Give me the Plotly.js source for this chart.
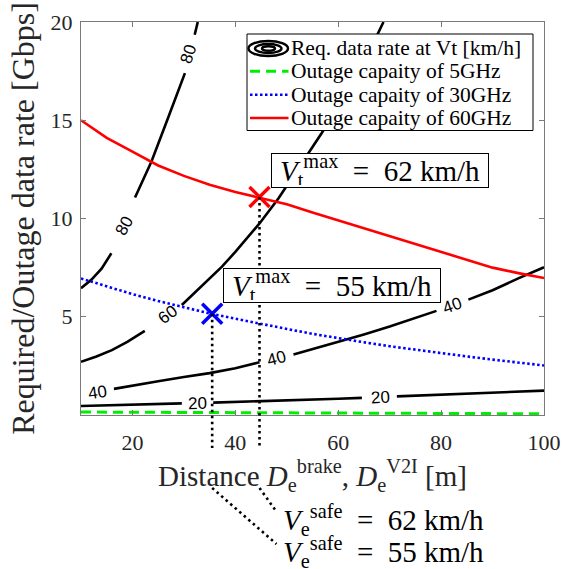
<!DOCTYPE html>
<html>
<head>
<meta charset="utf-8">
<script src="https://cdn.plot.ly/plotly-3.0.1.min.js"></script>
<style>html,body{margin:0;padding:0;background:#fff;}</style>
</head>
<body>
<div id="chart" style="width:563px;height:569px;"></div>
<script>
// ---- data ----
// contour "Req. data rate at Vt" (levels 20/40/60/80 km/h); null = gap for inline label
const c20D = [10, 15, 20, 25, 29.6, null, 35.7, 40, 45, 50, 55, 60, 64.6, null, 71.4, 75, 80, 85, 90, 95, 100];
const c20R = [0.46, 0.49, 0.52, 0.56, 0.59, null, 0.63, 0.66, 0.70, 0.74, 0.78, 0.83, 0.87, null, 0.95, 0.99, 1.04, 1.09, 1.14, 1.19, 1.24];
const c40D = [16.4, 20, 25, 30, 35, 40, 44.7, null, 51.3, 55, 60, 65, 70, 75, 79.1, null, 85.3, 90, 95, 100];
const c40R = [1.33, 1.5, 1.72, 1.93, 2.13, 2.38, 2.68, null, 3.08, 3.35, 3.72, 4.1, 4.5, 4.92, 5.3, null, 5.87, 6.35, 6.95, 7.52];
const c60D = [10, 13, 16, 19, 22.4, null, 29.6, 33, 37.4, 40, 44.7, 48.4, 52, 56.8, 62, 65, 68.8];
const c60R = [2.71, 2.98, 3.3, 3.72, 4.28, null, 5.6, 6.45, 7.55, 8.3, 9.75, 11.03, 12.43, 14.35, 16.6, 17.95, 20.0];
const c80D = [10, 12, 14, 15.9, null, 20.5, 23.7, 26.9, 30.2, null, 32.1, 32.7];
const c80R = [6.45, 6.88, 7.45, 8.23, null, 11.07, 12.9, 15.1, 17.4, null, 19.35, 20.0];
// contour inline labels
const labText = ['20', '20', '40', '40', '40', '60', '80', '80'];
const labD = [32.7, 68.3, 13.3, 48.0, 82.2, 26.9, 18.5, 30.96];
const labR = [0.6, 0.88, 1.15, 2.88, 5.55, 5.14, 9.63, 18.38];
const labAngle = [-2, -3, -8, -15, -20, -37, -62, -72];
// outage capacities
const capD = [10, 15, 20, 25, 30, 35, 40, 45, 50, 55, 60, 65, 70, 75, 80, 85, 90, 95, 100];
const cap5 = [0.15, 0.145, 0.14, 0.135, 0.13, 0.125, 0.12, 0.115, 0.11, 0.105, 0.1, 0.095, 0.09, 0.085, 0.08, 0.075, 0.07, 0.065, 0.06];
const cap30 = [6.95, 6.55, 6.15, 5.8, 5.48, 5.17, 4.9, 4.63, 4.38, 4.13, 3.9, 3.7, 3.5, 3.32, 3.15, 2.98, 2.82, 2.67, 2.52];
const cap60 = [15.0, 14.1, 13.4, 12.7, 12.17, 11.72, 11.35, 11.05, 10.72, 10.3, 9.9, 9.47, 9.07, 8.68, 8.28, 7.87, 7.5, 7.22, 6.97];
// maximum-speed points
const vmaxD = [44.7, 35.5];
const vmaxR = [11.1, 5.15];
const vmaxKmh = [62, 55];
const vmaxColor = ['#ff0000', '#0000ff'];
// ticks
const xTicks = [20, 40, 60, 80, 100];
const yTicks = [5, 10, 15, 20];
const legendNames = ['Req. data rate at Vt [km/h]', 'Outage capaity of 5GHz', 'Outage capaity of 30GHz', 'Outage capaity of 60GHz'];

// ---- build figure ----
const SERIF = 'Liberation Serif, Times New Roman, serif';
const SANS = 'Liberation Sans, Arial, sans-serif';
const TXT = '#262626';
const cLine = {color: '#000', width: 2.6};
const traces = [
  {x: c20D, y: c20R, mode: 'lines', line: cLine, connectgaps: false, showlegend: false, hoverinfo: 'skip'},
  {x: c40D, y: c40R, mode: 'lines', line: cLine, connectgaps: false, showlegend: false, hoverinfo: 'skip'},
  {x: c60D, y: c60R, mode: 'lines', line: cLine, connectgaps: false, showlegend: false, hoverinfo: 'skip'},
  {x: c80D, y: c80R, mode: 'lines', line: cLine, connectgaps: false, showlegend: false, hoverinfo: 'skip'},
  {x: capD, y: cap5, mode: 'lines', line: {color: '#00ee00', width: 3, dash: '10px,6px'}, showlegend: false},
  {x: capD, y: cap30, mode: 'lines', line: {color: '#0000ff', width: 2.6, dash: '2.5px,2.5px'}, showlegend: false},
  {x: capD, y: cap60, mode: 'lines', line: {color: '#ff0000', width: 2.6}, showlegend: false},
  {x: vmaxD, y: vmaxR, mode: 'markers', cliponaxis: false, showlegend: false,
   marker: {symbol: 'x-thin-open', size: 20, color: vmaxColor, line: {width: 3.5, color: vmaxColor}}}
];

// paper helpers (plot area: x 81..544, y 22..415)
const L = 81, R = 544, T = 22, B = 415;
const px = v => (v - L) / (R - L);
const py = v => (B - v) / (B - T);

const shapes = [];
const annotations = [];

// contour labels
labText.forEach((t, i) => annotations.push({
  x: labD[i], y: labR[i], xref: 'x', yref: 'y', text: t, showarrow: false,
  textangle: labAngle[i], font: {family: SANS, size: 17, color: '#000'}
}));

// dotted drop lines
vmaxD.forEach((d, i) => {
  const dot = {color: '#000', width: 2.6, dash: '2.5px,3.5px'};
  shapes.push({type: 'line', xref: 'x', yref: 'paper', x0: d, x1: d, y0: vmaxR[i] / 20, y1: py(448), line: dot, layer: 'above'});
  shapes.push({type: 'line', xref: 'x', yref: 'paper', x0: d, x1: 48.0, y0: py(488), y1: py(i === 0 ? 511.7 : 544), line: dot, layer: 'above'});
});

// V_t^max boxes
const boxCx = [379.5, 331.5], boxCy = [170.5, 285.5];
vmaxKmh.forEach((v, i) => annotations.push({
  xref: 'paper', yref: 'paper', x: px(boxCx[i]), y: py(boxCy[i]), xanchor: 'center', yanchor: 'middle',
  text: '<i>V</i><sub>t</sub><sup>max</sup>&nbsp;&nbsp;=&nbsp;&nbsp;' + v + ' km/h', showarrow: false,
  bgcolor: '#fff', bordercolor: '#000', borderwidth: 1, borderpad: 2, width: 212, height: 29,
  font: {family: SERIF, size: 29, color: '#000'}
}));

// V_e^safe texts below the axis
const safeCy = [520, 552];
vmaxKmh.forEach((v, i) => annotations.push({
  xref: 'paper', yref: 'paper', x: px(281), y: py(safeCy[i]), xanchor: 'left', yanchor: 'middle',
  text: '<i>V</i><sub>e</sub><sup>safe</sup>&nbsp;&nbsp;=&nbsp;&nbsp;' + v + ' km/h', showarrow: false,
  font: {family: SERIF, size: 29, color: '#000'}
}));

// manual legend
shapes.push({type: 'rect', xref: 'paper', yref: 'paper', x0: px(247), x1: px(533), y0: py(130.5), y1: py(34),
  fillcolor: '#fff', line: {color: '#000', width: 1}, layer: 'above'});
const rowY = [48, 71.3, 94.7, 118];
// concentric-ellipse icon for contour entry
[[248.5, 288, 41, 56], [255, 281.5, 44, 53], [262, 275, 46.3, 50.7]].forEach(e => shapes.push({
  type: 'circle', xref: 'paper', yref: 'paper', x0: px(e[0]), x1: px(e[1]), y0: py(e[3]), y1: py(e[2]),
  line: {color: '#000', width: 2.4}, layer: 'above'}));
const legLines = [null, {color: '#00ee00', width: 3, dash: '10px,6px'}, {color: '#0000ff', width: 2.6, dash: '2.5px,2.5px'}, {color: '#ff0000', width: 2.6}];
legLines.forEach((ln, i) => { if (ln) shapes.push({type: 'line', xref: 'paper', yref: 'paper', x0: px(250), x1: px(288.5), y0: py(rowY[i]), y1: py(rowY[i]), line: ln, layer: 'above'}); });
legendNames.forEach((n, i) => annotations.push({
  xref: 'paper', yref: 'paper', x: px(289), y: py(rowY[i]), xanchor: 'left', yanchor: 'middle',
  text: n, showarrow: false, font: {family: SERIF, size: 21.5, color: '#000'}
}));

const axisCommon = {
  showline: true, mirror: 'ticks', linecolor: '#7a7a7a', linewidth: 1,
  ticks: 'inside', ticklen: 5, tickwidth: 1, tickcolor: '#7a7a7a',
  showgrid: false, zeroline: false, fixedrange: true,
  tickfont: {family: SERIF, size: 22, color: TXT}
};

const layout = {
  width: 563, height: 569,
  margin: {l: L, r: 563 - R, t: T, b: 569 - B, pad: 0},
  paper_bgcolor: '#fff', plot_bgcolor: '#fff',
  showlegend: false,
  xaxis: Object.assign({}, axisCommon, {
    range: [10, 100], tickvals: xTicks, ticktext: xTicks.map(String), ticklabelstandoff: 8,
    title: {text: 'Distance <i>D</i><sub>e</sub><sup>brake</sup>, <i>D</i><sub>e</sub><sup>V2I</sup> [m]',
      font: {family: SERIF, size: 29, color: TXT}, standoff: 0}
  }),
  yaxis: Object.assign({}, axisCommon, {
    range: [0, 20], tickvals: yTicks, ticktext: yTicks.map(String), ticklabelstandoff: 3,
    title: {text: 'Required/Outage data rate [Gbps]', font: {family: SERIF, size: 32, color: TXT}, standoff: 6}
  }),
  shapes: shapes,
  annotations: annotations
};

Plotly.newPlot('chart', traces, layout, {displayModeBar: false});
</script>
</body>
</html>
